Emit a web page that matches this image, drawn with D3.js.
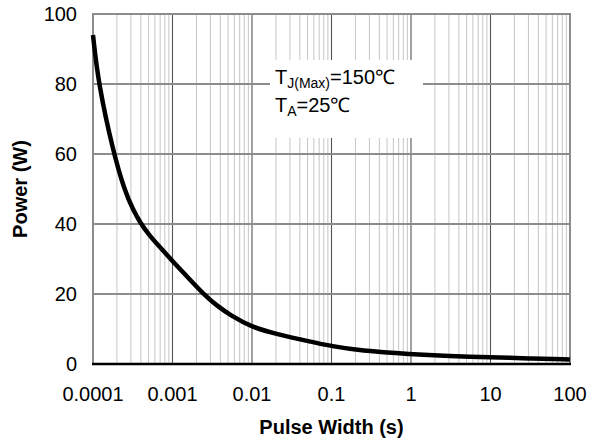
<!DOCTYPE html>
<html>
<head>
<meta charset="utf-8">
<script src="https://cdn.jsdelivr.net/npm/d3@7"></script>
<style>
  html, body { margin: 0; padding: 0; background: #fff; }
  svg { display: block; font-family: Arial, "Liberation Sans", sans-serif; }
</style>
</head>
<body>
<svg id="chart" width="598" height="441"></svg>
<script>
// ── Data ──────────────────────────────────────────────────────────────────
const pulseWidth = [1e-4, 1.17e-4, 1.8e-4, 2.5e-4, 3.2e-4, 3.9e-4, 5e-4, 7e-4, 1e-3,
                    1.66e-3, 2.55e-3, 3.7e-3, 5.3e-3, 1e-2, 2e-2, 5.4e-2, 0.1, 0.23,
                    1, 3, 10, 30, 100];
const power      = [94, 80, 60.5, 49.5, 44, 40.5, 37, 33.3, 29.4,
                    24.1, 19.6, 16.5, 14.0, 10.5, 8.6, 6.4, 5.1, 3.8,
                    2.8, 2.3, 1.9, 1.6, 1.3];

const xTickValues = [1e-4, 1e-3, 1e-2, 1e-1, 1, 10, 100];
const xTickLabels = ['0.0001', '0.001', '0.01', '0.1', '1', '10', '100'];
const yTickValues = [0, 20, 40, 60, 80, 100];

const xTitle = 'Pulse Width (s)';
const yTitle = 'Power (W)';
const noteLines = [
  { main: 'T', sub: 'J(Max)', rest: '=150\u2103' },
  { main: 'T', sub: 'A', rest: '=25\u2103' }
];

// ── Layout ────────────────────────────────────────────────────────────────
const PLOT = { left: 93, right: 570, top: 14, bottom: 364 };
const GRID_MAJOR_H = '#8c8c8c';
const GRID_MAJOR_V = '#555';
const GRID_MINOR = '#c6c6c6';

const svg = d3.select('#chart');

const x = d3.scaleLog().domain([1e-4, 100]).range([PLOT.left, PLOT.right]);
const y = d3.scaleLinear().domain([0, 100]).range([PLOT.bottom, PLOT.top]);

// minor log lines 2..9 of every decade
const minorVals = [];
xTickValues.slice(0, -1).forEach(d => {
  for (let k = 2; k <= 9; k++) minorVals.push(d * k);
});

const grid = svg.append('g').attr('class', 'grid');

grid.selectAll('.minor')
  .data(minorVals)
  .enter().append('line')
  .attr('class', 'minor')
  .attr('x1', d => x(d)).attr('x2', d => x(d))
  .attr('y1', PLOT.top).attr('y2', PLOT.bottom)
  .attr('stroke', GRID_MINOR)
  .attr('stroke-width', 1);

grid.selectAll('.vmajor')
  .data(xTickValues.slice(1, -1))
  .enter().append('line')
  .attr('class', 'vmajor')
  .attr('x1', d => x(d)).attr('x2', d => x(d))
  .attr('y1', PLOT.top).attr('y2', PLOT.bottom)
  .attr('stroke', GRID_MAJOR_V)
  .attr('stroke-width', 1.1);

grid.selectAll('.hmajor')
  .data(yTickValues.slice(1))
  .enter().append('line')
  .attr('class', 'hmajor')
  .attr('x1', PLOT.left).attr('x2', PLOT.right)
  .attr('y1', d => y(d)).attr('y2', d => y(d))
  .attr('stroke', GRID_MAJOR_H)
  .attr('stroke-width', 2);

// plot frame (left / right in gray, top covered by the 100 grid line)
svg.append('line')
  .attr('x1', PLOT.left).attr('x2', PLOT.left)
  .attr('y1', PLOT.top - 1).attr('y2', PLOT.bottom)
  .attr('stroke', GRID_MAJOR_H).attr('stroke-width', 2);
svg.append('line')
  .attr('x1', PLOT.right).attr('x2', PLOT.right)
  .attr('y1', PLOT.top - 1).attr('y2', PLOT.bottom)
  .attr('stroke', GRID_MAJOR_H).attr('stroke-width', 2);

// ── Annotation box ────────────────────────────────────────────────────────
svg.append('rect')
  .attr('x', 270).attr('y', 60)
  .attr('width', 153).attr('height', 78)
  .attr('fill', '#fff');

const note = svg.append('g').attr('class', 'note');
noteLines.forEach((ln, i) => {
  const t = note.append('text')
    .attr('x', 275)
    .attr('y', 83.5 + i * 28.5)
    .attr('font-size', '20px')
    .attr('fill', '#000');
  t.append('tspan').text(ln.main);
  t.append('tspan').attr('font-size', '14px').attr('dy', 4).text(ln.sub);
  t.append('tspan').attr('dy', -4).text(ln.rest);
});

// ── Curve ─────────────────────────────────────────────────────────────────
// basis spline evens out small reading errors in the digitised points
const line = d3.line()
  .x(d => x(d[0]))
  .y(d => y(d[1]))
  .curve(d3.curveBasis);

svg.append('path')
  .datum(d3.zip(pulseWidth, power))
  .attr('d', line)
  .attr('fill', 'none')
  .attr('stroke', '#000')
  .attr('stroke-width', 4.5)
  .attr('stroke-linejoin', 'round');

// bottom axis line
svg.append('line')
  .attr('x1', PLOT.left - 1).attr('x2', PLOT.right + 1)
  .attr('y1', PLOT.bottom).attr('y2', PLOT.bottom)
  .attr('stroke', '#000').attr('stroke-width', 2.5);

// ── Tick labels ───────────────────────────────────────────────────────────
svg.append('g').selectAll('text')
  .data(xTickValues)
  .enter().append('text')
  .attr('x', d => x(d))
  .attr('y', 401)
  .attr('text-anchor', 'middle')
  .attr('font-size', '20px')
  .attr('fill', '#000')
  .text((d, i) => xTickLabels[i]);

svg.append('g').selectAll('text')
  .data(yTickValues)
  .enter().append('text')
  .attr('x', 77)
  .attr('y', d => y(d) + 7)
  .attr('text-anchor', 'end')
  .attr('font-size', '20px')
  .attr('fill', '#000')
  .text(d => d);

// ── Axis titles ───────────────────────────────────────────────────────────
svg.append('text')
  .attr('x', (PLOT.left + PLOT.right) / 2)
  .attr('y', 434)
  .attr('text-anchor', 'middle')
  .attr('font-size', '20px')
  .attr('font-weight', 'bold')
  .text(xTitle);

svg.append('text')
  .attr('transform', `translate(27,${(PLOT.top + PLOT.bottom) / 2}) rotate(-90)`)
  .attr('text-anchor', 'middle')
  .attr('font-size', '20px')
  .attr('font-weight', 'bold')
  .text(yTitle);
</script>
</body>
</html>
